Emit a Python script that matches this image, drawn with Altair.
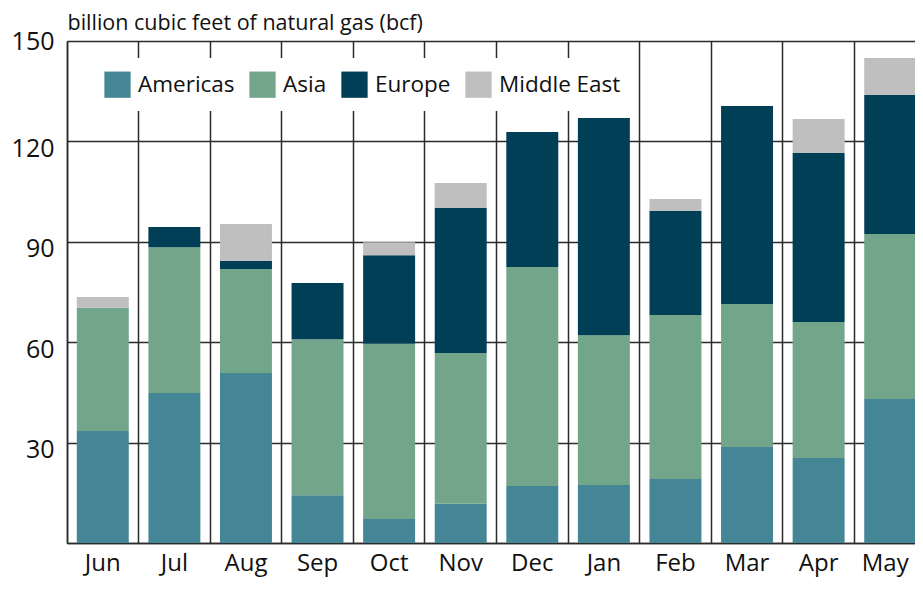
import altair as alt
import pandas as pd

months = ["Jun", "Jul", "Aug", "Sep", "Oct", "Nov", "Dec", "Jan", "Feb", "Mar", "Apr", "May"]
regions = ["Americas", "Asia", "Europe", "Middle East"]
americas = [33.5, 44.8, 50.8, 14.3, 7.2, 11.7, 17.0, 17.3, 19.1, 28.7, 25.4, 43.0]
asia = [36.8, 43.6, 31.1, 46.6, 52.3, 45.1, 65.5, 44.8, 49.0, 42.7, 40.6, 49.3]
europe = [0.0, 6.0, 2.4, 16.8, 26.5, 43.3, 40.3, 64.9, 31.1, 59.2, 50.5, 41.6]
middle_east = [3.2, 0.0, 11.0, 0.0, 3.9, 7.5, 0.0, 0.0, 3.6, 0.0, 10.2, 11.0]
colors = ["#458696", "#73a58b", "#003f56", "#bfbfbf"]
y_ticks = [0, 30, 60, 90, 120, 150]

rows = []
for i, m in enumerate(months):
    for k, (r, series) in enumerate(zip(regions, [americas, asia, europe, middle_east])):
        rows.append({"month": m, "region": r, "value": series[i], "idx": k})
df = pd.DataFrame(rows)

FONT = "Open Sans"
GRID = "#2b2b2b"
TITLE = "billion cubic feet of natural gas (bcf)"

chart = (
    alt.Chart(df)
    .mark_bar(width={"band": 0.726})
    .encode(
        x=alt.X(
            "month:N",
            sort=months,
            scale=alt.Scale(paddingInner=0, paddingOuter=0, range=[0, 859]),
            axis=alt.Axis(
                title=None, labelAngle=0, ticks=False, grid=True, bandPosition=0,
                gridColor=GRID, gridWidth=1.5, domainColor=GRID, domainWidth=1.5,
                labelFontSize=24, labelPadding=8, labelColor="#111",
                labelOffset={"condition": {"test": "datum.value == 'May'", "value": -5}, "value": 0},
            ),
        ),
        y=alt.Y(
            "value:Q",
            stack="zero",
            scale=alt.Scale(domain=[0, 150], nice=False),
            axis=alt.Axis(
                title=TITLE, titleAngle=0, titleAlign="left", titleBaseline="alphabetic",
                titleX=0, titleY=-12, titleFontSize=21.5, titleFontWeight="normal",
                titleColor="#111",
                values=y_ticks, ticks=False, grid=True,
                labelExpr="datum.value == 0 ? '' : datum.label",
                labelOffset={"condition": {"test": "datum.value == 150", "value": 0}, "value": 7},
                gridColor=GRID, gridWidth=1.5, domainColor=GRID, domainWidth=1.5,
                labelFontSize=25, labelPadding=13, labelColor="#111",
            ),
        ),
        color=alt.Color(
            "region:N",
            sort=regions,
            scale=alt.Scale(domain=regions, range=colors),
            legend=alt.Legend(
                title=None, orient="none", legendX=24, legendY=17, direction="horizontal",
                fillColor="white", padding=13, symbolType="square", symbolSize=690,
                symbolStrokeWidth=0, labelFontSize=22.5, labelOffset=7, columnPadding=14,
                labelColor="#111",
            ),
        ),
        order=alt.Order("idx:Q", sort="ascending"),
    )
    .properties(
        width=848,
        height=502,
        autosize=alt.AutoSizeParams(type="none"),
        padding={"left": 59, "top": 33, "right": 0, "bottom": 34},
    )
    .configure(font=FONT)
    .configure_view(stroke=None)
)

chart.save("out.html", embed_options={"renderer": "svg", "actions": False})
